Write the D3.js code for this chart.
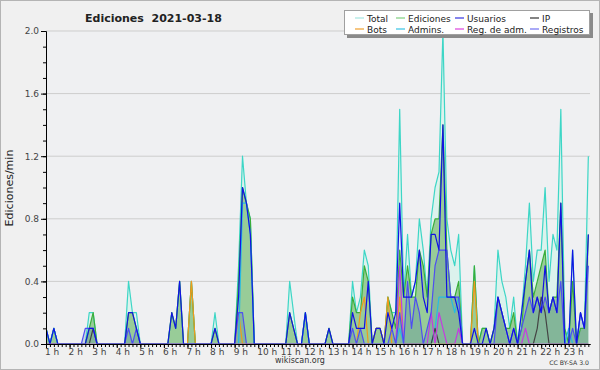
<!DOCTYPE html>
<html>
<head>
<meta charset="utf-8">
<script src="https://cdn.jsdelivr.net/npm/d3@7"></script>
<style>
  body { margin: 0; background: #f0f0f0; }
  svg { display: block; font-family: "DejaVu Sans", sans-serif; }
</style>
</head>
<body>
<div id="chart"></div>
<script>
// edits counted per 10 minutes, first value at 1 h (rate = count / 10 per min)
const total = [
  1,0,1,0,0,0,0,0,0,0,   0,2,2,0,0,0,0,0,0,0,   0,4,2,2,0,0,0,0,0,0,
  0,0,2,1,4,0,0,4,0,0,   0,0,0,2,0,0,0,0,0,5,   12,9,8,0,0,0,0,0,0,0,
  0,0,4,2,0,0,2,0,0,0,   0,0,1,0,0,0,0,0,4,2,   3,6,5,0,1,1,0,3,2,2,
  15,3,7,3,4,8,6,3,8,10, 11,20,8,6,5,7,0,0,0,5, 0,1,1,0,1,6,4,3,1,3,
  0,2,5,9,4,6,6,10,4,7,  6,15,1,0,6,0,2,1,12
];
const ediciones = [
  1,0,1,0,0,0,0,0,0,0,   0,1,2,0,0,0,0,0,0,0,   0,2,2,1,0,0,0,0,0,0,
  0,0,2,1,4,0,0,4,0,0,   0,0,0,1,0,0,0,0,0,4,   10,9,8,0,0,0,0,0,0,0,
  0,0,2,1,0,0,2,0,0,0,   0,0,1,0,0,0,0,0,3,2,   2,5,4,0,1,1,0,3,2,1,
  6,3,5,3,3,6,5,3,7,8,   8,14,6,3,3,4,0,0,0,5,  0,1,1,0,1,3,2,1,1,2,
  0,1,4,6,3,4,5,6,2,3,   3,9,1,0,4,0,1,1,7
];
const usuarios = [
  1,0,1,0,0,0,0,0,0,0,   0,1,1,0,0,0,0,0,0,0,   0,2,2,1,0,0,0,0,0,0,
  0,0,2,1,4,0,0,0,0,0,   0,0,0,1,0,0,0,0,0,3,   10,9,7,0,0,0,0,0,0,0,
  0,0,2,1,0,0,2,0,0,0,   0,0,1,0,0,0,0,0,2,1,   1,1,4,0,1,1,0,2,1,2,
  9,3,3,3,4,6,3,2,7,7,   6,14,3,3,3,2,0,0,0,1,  0,0,1,0,1,3,2,1,0,1,
  0,2,4,6,2,3,2,5,2,3,   2,9,0,0,6,0,2,1,7
];
const ip = [
  0,0,0,0,0,0,0,0,0,0,   0,0,1,0,0,0,0,0,0,0,   0,0,0,0,0,0,0,0,0,0,
  0,0,0,0,0,0,0,0,0,0,   0,0,0,0,0,0,0,0,0,0,   0,0,0,0,0,0,0,0,0,0,
  0,0,0,0,0,0,0,0,0,0,   0,0,0,0,0,0,0,0,0,0,   0,0,0,0,0,0,0,0,0,0,
  0,0,0,0,0,0,0,0,0,1,   0,0,0,0,0,0,0,0,0,0,   0,0,0,0,0,0,0,0,0,0,
  0,0,0,0,0,1,3,2,0,0,   0,0,0,0,0,0,0,0,0
];
const bots = [
  0,0,0,0,0,0,0,0,0,0,   0,0,0,0,0,0,0,0,0,0,   0,0,0,0,0,0,0,0,0,0,
  0,0,0,0,0,0,0,4,0,0,   0,0,0,0,0,0,0,0,0,2,   0,0,0,0,0,0,0,0,0,0,
  0,0,0,0,0,0,0,0,0,0,   0,0,0,0,0,0,0,0,0,0,   2,3,0,0,1,1,0,3,0,0,
  3,0,0,0,0,0,0,0,0,0,   0,0,0,0,0,0,0,0,0,4,   0,0,0,0,0,0,0,0,0,0,
  0,0,0,0,0,0,0,0,0,0,   0,0,0,0,0,0,0,0,0
];
const admins = [
  1,0,1,0,0,0,0,0,0,0,   0,0,0,0,0,0,0,0,0,0,   0,0,0,0,0,0,0,0,0,0,
  0,0,0,0,0,0,0,0,0,0,   0,0,0,0,0,0,0,0,0,0,   9,9,7,0,0,0,0,0,0,0,
  0,0,0,0,0,0,2,0,0,0,   0,0,0,0,0,0,0,0,0,0,   0,0,0,0,0,0,0,0,0,0,
  1,0,0,0,0,0,0,0,0,1,   3,3,3,3,2,3,0,0,0,0,   0,0,0,0,0,0,0,0,0,0,
  0,0,0,0,0,0,0,0,0,0,   0,0,0,1,0,0,0,0,0
];
const regAdm = [
  0,0,0,0,0,0,0,0,0,0,   0,0,0,0,0,0,0,0,0,0,   0,0,0,0,0,0,0,0,0,0,
  0,0,0,0,0,0,0,0,0,0,   0,0,0,0,0,0,0,0,0,0,   0,0,0,0,0,0,0,0,0,0,
  0,0,0,0,0,0,0,0,0,0,   0,0,0,0,0,0,0,0,0,0,   0,0,0,0,0,0,0,0,0,0,
  5,0,0,0,0,0,0,0,2,0,   2,1,0,0,0,1,0,0,0,0,   0,0,0,0,0,0,0,0,0,0,
  0,0,1,0,0,0,0,0,0,0,   0,0,0,0,0,0,0,0,0
];
const registros = [
  0,0,0,0,0,0,0,0,0,0,   1,1,1,0,0,0,0,0,0,0,   0,1,0,1,0,0,0,0,0,0,
  0,0,0,0,0,0,0,0,0,0,   0,0,0,0,0,0,0,0,0,2,   2,0,0,0,0,0,0,0,0,0,
  0,0,0,0,0,0,0,0,0,0,   0,0,0,0,0,0,0,0,1,0,   1,0,0,0,0,0,0,0,1,0,
  2,0,4,1,3,2,0,1,2,5,   6,6,6,3,3,3,0,0,0,0,   0,0,0,0,0,3,2,1,0,1,
  0,1,2,3,2,3,2,3,2,3,   2,4,0,0,1,0,2,1,5
];

const hourTicks = [1,2,3,4,5,6,7,8,9,10,11,12,13,14,15,16,17,18,19,20,21,22,23];
const hourLabels = ["1 h","2 h","3 h","4 h","5 h","6 h","7 h","8 h","9 h","10 h","11 h","12 h",
  "13 h","14 h","15 h","16 h","17 h","18 h","19 h","20 h","21 h","22 h","23 h"];
const yTicks = [0, 0.4, 0.8, 1.2, 1.6, 2.0];

const legendNames = ["Total","Ediciones","Usuarios","IP","Bots","Admins.","Reg. de adm.","Registros"];
const legendColors = ["#a6e6e2","#7fcf7f","#3434e0","#333333","#f0a030","#38c4e4","#dd44dd","#7272f2"];

const width = 600, height = 370;
const plotLeft = 46, plotRight = 590, plotTop = 31, plotBottom = 344;

const svg = d3.select("#chart").append("svg")
  .attr("width", width).attr("height", height);

svg.append("rect").attr("x", 0.5).attr("y", 0.5)
  .attr("width", width - 1).attr("height", height - 1)
  .attr("fill", "#f0f0f0").attr("stroke", "#b4b4b4");

const x = d3.scaleLinear().domain([1, 1 + 544 / 23.58]).range([plotLeft, plotRight]);
const y = d3.scaleLinear().domain([0, 2]).range([plotBottom, plotTop]);
const t = i => 1 + i / 6;   // 10-minute steps

svg.append("clipPath").attr("id", "plotclip")
  .append("rect").attr("x", plotLeft).attr("y", 0)
  .attr("width", plotRight - plotLeft + 2).attr("height", plotBottom - 0.4);

svg.append("rect").attr("x", plotLeft).attr("y", plotTop)
  .attr("width", plotRight - plotLeft).attr("height", plotBottom - plotTop)
  .attr("fill", "#eff0f2");

// grid
svg.append("g").selectAll("line")
  .data(yTicks.slice(1)).enter().append("line")
  .attr("x1", plotLeft).attr("x2", plotRight)
  .attr("y1", d => y(d)).attr("y2", d => y(d))
  .attr("stroke", "#cdcdcd");

// areas
const area = d3.area()
  .x((d, i) => x(t(i)))
  .y0(y(0))
  .y1(d => y(d / 10));
const line = d3.line()
  .x((d, i) => x(t(i)))
  .y(d => y(d / 10));

const plot = svg.append("g").attr("clip-path", "url(#plotclip)");

plot.append("path").datum(total).attr("d", area).attr("fill", "#dcf2ed");
plot.append("path").datum(ediciones).attr("d", area).attr("fill", "#98cc98");
plot.append("path").datum(registros).attr("d", area)
  .attr("fill", "#3060a0").attr("fill-opacity", 0.2);

// lines, back to front
const lines = [
  [total, "#3dd6c6"],
  [ediciones, "#3aae3a"],
  [bots, "#f09a1c"],
  [admins, "#26bce2"],
  [ip, "#444444"],
  [regAdm, "#c43ce0"],
  [registros, "#4e4ef2"],
  [usuarios, "#1212e4"]
];
lines.forEach(function(s) {
  plot.append("path").datum(s[0])
    .attr("d", line)
    .attr("fill", "none")
    .attr("stroke", s[1])
    .attr("stroke-width", 1.2)
    .attr("stroke-linejoin", "round");
});

// y axis
const yAxis = svg.append("g").attr("transform", "translate(" + plotLeft + ",0)");
yAxis.call(d3.axisLeft(y).tickValues(d3.range(0, 2.05, 0.1)).tickSize(3).tickFormat("").tickSizeOuter(0));
yAxis.append("g").call(d3.axisLeft(y).tickValues(yTicks).tickSize(5).tickPadding(2)
  .tickFormat(d3.format(".1f")).tickSizeOuter(0));
yAxis.selectAll(".domain").attr("stroke", "#000");
yAxis.selectAll("line").attr("stroke", "#000");
yAxis.selectAll("text").attr("fill", "#444").style("font-size", "9px")
  .style("font-family", "DejaVu Sans");

// x axis
const xAxis = svg.append("g").attr("transform", "translate(0," + plotBottom + ")");
xAxis.call(d3.axisBottom(x).tickValues(d3.range(0, 139).map(t)).tickSize(3).tickFormat("").tickSizeOuter(0));
xAxis.append("g").call(d3.axisBottom(x).tickValues(hourTicks).tickSize(4).tickPadding(1)
  .tickFormat((d, i) => hourLabels[i]).tickSizeOuter(0));
xAxis.selectAll(".domain").attr("stroke", "#000");
xAxis.selectAll("line").attr("stroke", "#000");
xAxis.selectAll("text").attr("fill", "#444").style("font-size", "9px")
  .style("font-family", "DejaVu Sans")
  .attr("text-anchor", "start").attr("dx", "-1.5");

// titles
svg.append("text").attr("x", 85).attr("y", 22)
  .attr("font-size", 11).attr("font-weight", "bold").attr("fill", "#222")
  .style("white-space", "pre")
  .text("Ediciones  2021-03-18");

svg.append("text")
  .attr("transform", "translate(13,188) rotate(-90)")
  .attr("text-anchor", "middle").attr("font-size", 11).attr("fill", "#222")
  .text("Ediciones/min");

svg.append("text").attr("x", 300).attr("y", 363)
  .attr("text-anchor", "middle").attr("font-size", 8).attr("fill", "#333")
  .text("wikiscan.org");

svg.append("text").attr("x", 589).attr("y", 365)
  .attr("text-anchor", "end").attr("font-size", 6.2).attr("fill", "#333")
  .text("CC BY-SA 3.0");

// legend
const lg = svg.append("g");
lg.append("rect").attr("x", 347).attr("y", 13).attr("width", 246).attr("height", 25).attr("fill", "#8a8a8a");
lg.append("rect").attr("x", 344.5).attr("y", 10.5).attr("width", 245).attr("height", 24)
  .attr("fill", "#fff").attr("stroke", "#a0a0a0");
const colX = [355, 396, 455, 530];
const items = lg.selectAll("g.item").data(legendNames).enter().append("g")
  .attr("transform", (d, i) => "translate(" + colX[i % 4] + "," + (i < 4 ? 18 : 29) + ")");
items.append("line").attr("x1", 0).attr("x2", 9).attr("y1", 0).attr("y2", 0)
  .attr("stroke", (d, i) => legendColors[i]).attr("stroke-width", 1.2);
items.append("text").attr("x", 12).attr("y", 3.5)
  .attr("font-size", 9).attr("fill", "#222")
  .text(d => d);
</script>
</body>
</html>
